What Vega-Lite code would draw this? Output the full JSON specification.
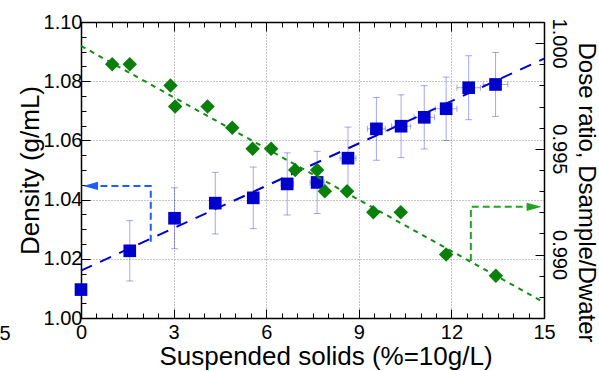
{
  "$schema": "https://vega.github.io/schema/vega-lite/v6.json",
  "width": 463,
  "height": 296,
  "autosize": {"type": "none"},
  "padding": {"left": 81, "top": 22, "right": 55, "bottom": 53},
  "background": "white",
  "config": {
    "view": {"stroke": null},
    "font": "Liberation Sans",
    "axis": {
      "labelFont": "Liberation Sans",
      "labelFontSize": 20,
      "labelColor": "black",
      "titleFont": "Liberation Sans",
      "titleFontSize": 26,
      "titleFontWeight": "normal",
      "titleColor": "black",
      "domainColor": "black",
      "domainWidth": 1.5,
      "tickColor": "black",
      "tickWidth": 1,
      "labelFlush": false,
      "labelOverlap": false,
      "labelBound": false
    }
  },
  "datasets": {
    "blue": [
      {"x": 0, "y": 1.0096},
      {"x": 1.58, "y": 1.0227, "ylo": 1.0125, "yhi": 1.0329, "xlo": 1.53, "xhi": 1.63},
      {"x": 3.03, "y": 1.0337, "ylo": 1.0234, "yhi": 1.044, "xlo": 2.94, "xhi": 3.12},
      {"x": 4.35, "y": 1.0388, "ylo": 1.0284, "yhi": 1.0492, "xlo": 4.22, "xhi": 4.48},
      {"x": 5.58, "y": 1.0406, "ylo": 1.0302, "yhi": 1.051, "xlo": 5.41, "xhi": 5.75},
      {"x": 6.68, "y": 1.0453, "ylo": 1.0348, "yhi": 1.0558, "xlo": 6.48, "xhi": 6.88},
      {"x": 7.65, "y": 1.0458, "ylo": 1.0353, "yhi": 1.0563, "xlo": 7.42, "xhi": 7.88},
      {"x": 8.65, "y": 1.054, "ylo": 1.0435, "yhi": 1.0645, "xlo": 8.39, "xhi": 8.91},
      {"x": 9.57, "y": 1.0639, "ylo": 1.0533, "yhi": 1.0745, "xlo": 9.28, "xhi": 9.86},
      {"x": 10.37, "y": 1.0648, "ylo": 1.0542, "yhi": 1.0754, "xlo": 10.06, "xhi": 10.68},
      {"x": 11.12, "y": 1.0678, "ylo": 1.0571, "yhi": 1.0785, "xlo": 10.79, "xhi": 11.45},
      {"x": 11.83, "y": 1.0707, "ylo": 1.06, "yhi": 1.0814, "xlo": 11.48, "xhi": 12.18},
      {"x": 12.56, "y": 1.0778, "ylo": 1.067, "yhi": 1.0886, "xlo": 12.18, "xhi": 12.94},
      {"x": 13.43, "y": 1.0789, "ylo": 1.0681, "yhi": 1.0897, "xlo": 13.03, "xhi": 13.83}
    ],
    "bfit": [{"x": 0, "y": 1.016}, {"x": 15, "y": 1.0876}],
    "barrow": [
      {"o": 1, "x": 2.26, "y": 1.0258},
      {"o": 2, "x": 2.26, "y": 1.0446},
      {"o": 3, "x": 0.31, "y": 1.0446}
    ],
    "bhead": [{"x": 0.31, "y": 1.0446}],
    "stray": [{"x": -2.46, "y": 0.9947, "t": "5"}],
    "green": [
      {"x": 1.01, "y": 0.999},
      {"x": 1.58, "y": 0.999},
      {"x": 2.9, "y": 0.998},
      {"x": 3.05, "y": 0.997},
      {"x": 4.1, "y": 0.997},
      {"x": 4.9, "y": 0.996},
      {"x": 5.56, "y": 0.995},
      {"x": 6.16, "y": 0.995},
      {"x": 6.94, "y": 0.994},
      {"x": 7.65, "y": 0.994},
      {"x": 7.9, "y": 0.993},
      {"x": 8.62, "y": 0.993},
      {"x": 9.47, "y": 0.992},
      {"x": 10.36, "y": 0.992},
      {"x": 11.83, "y": 0.99},
      {"x": 13.44, "y": 0.989}
    ],
    "gfit": [{"x": 0, "y": 0.99987}, {"x": 15, "y": 0.98774}],
    "garrow": [
      {"o": 1, "x": 12.63, "y": 0.9897},
      {"o": 2, "x": 12.63, "y": 0.99226},
      {"o": 3, "x": 14.68, "y": 0.99226}
    ],
    "ghead": [{"x": 14.68, "y": 0.99226}]
  },
  "layer": [
    {
      "data": {"name": "blue"},
      "mark": {"type": "rule", "color": "#0000cc", "opacity": 0.35, "strokeWidth": 1},
      "encoding": {
        "x": {
          "field": "x", "type": "quantitative",
          "scale": {"domain": [0, 15], "nice": false, "zero": false},
          "axis": {
            "orient": "bottom",
            "title": "Suspended solids (%=10g/L)",
            "values": [0, 0.5, 1, 1.5, 2, 2.5, 3, 3.5, 4, 4.5, 5, 5.5, 6, 6.5, 7, 7.5, 8, 8.5, 9, 9.5, 10, 10.5, 11, 11.5, 12, 12.5, 13, 13.5, 14, 14.5, 15],
            "labelExpr": "datum.value % 3 == 0 ? format(datum.value, 'd') : ''",
            "tickSize": -5,
            "labelPadding": 9,
            "grid": true,
            "gridColor": "#8a8a8a",
            "gridDash": [1, 2],
            "gridWidth": 1,
            "gridOpacity": {"condition": {"test": "datum.value % 3 == 0 && datum.value > 0.1 && datum.value < 14.9", "value": 1}, "value": 0},
            "titlePadding": 1,
            "titleX": 244.5
          }
        },
        "y": {
          "field": "ylo", "type": "quantitative",
          "scale": {"domain": [1.0, 1.1], "nice": false, "zero": false},
          "axis": {
            "orient": "left",
            "title": "Density (g/mL)",
            "values": [1, 1.005, 1.01, 1.015, 1.02, 1.025, 1.03, 1.035, 1.04, 1.045, 1.05, 1.055, 1.06, 1.065, 1.07, 1.075, 1.08, 1.085, 1.09, 1.095, 1.1],
            "labelExpr": "round(datum.value * 1000) % 20 == 0 ? format(datum.value, '.2f') : ''",
            "tickSize": -5,
            "labelPadding": 4,
            "grid": true,
            "gridColor": "#8a8a8a",
            "gridDash": [1, 2],
            "gridWidth": 1,
            "gridOpacity": {"condition": {"test": "round(datum.value * 1000) % 20 == 0 && datum.value > 1.001 && datum.value < 1.099", "value": 1}, "value": 0},
            "titlePadding": 0
          }
        },
        "y2": {"field": "yhi"}
      }
    },
    {
      "data": {"name": "blue"},
      "mark": {"type": "tick", "orient": "horizontal", "color": "#0000cc", "opacity": 0.35, "size": 7, "thickness": 1},
      "encoding": {
        "x": {
          "field": "x", "type": "quantitative", "scale": {"domain": [0, 15], "nice": false, "zero": false},
          "axis": {"orient": "bottom", "title": null, "labels": false, "domain": false, "grid": false, "values": [0, 3, 6, 9, 12, 15], "tickSize": -9}
        },
        "y": {
          "field": "ylo", "type": "quantitative", "scale": {"domain": [1.0, 1.1], "nice": false, "zero": false},
          "axis": {"orient": "left", "title": null, "labels": false, "domain": false, "grid": false, "values": [1, 1.02, 1.04, 1.06, 1.08, 1.1], "tickSize": -9}
        }
      }
    },
    {
      "data": {"name": "blue"},
      "mark": {"type": "tick", "orient": "horizontal", "color": "#0000cc", "opacity": 0.35, "size": 7, "thickness": 1},
      "encoding": {
        "x": {"field": "x", "type": "quantitative", "scale": {"domain": [0, 15], "nice": false, "zero": false}, "axis": null},
        "y": {"field": "yhi", "type": "quantitative", "scale": {"domain": [1.0, 1.1], "nice": false, "zero": false}, "axis": null}
      }
    },
    {
      "data": {"name": "blue"},
      "mark": {"type": "rule", "color": "#0000cc", "opacity": 0.35, "strokeWidth": 1},
      "encoding": {
        "x": {"field": "xlo", "type": "quantitative", "scale": {"domain": [0, 15], "nice": false, "zero": false}, "axis": null},
        "x2": {"field": "xhi"},
        "y": {"field": "y", "type": "quantitative", "scale": {"domain": [1.0, 1.1], "nice": false, "zero": false}, "axis": null}
      }
    },
    {
      "data": {"name": "blue"},
      "mark": {"type": "tick", "orient": "vertical", "color": "#0000cc", "opacity": 0.35, "size": 6, "thickness": 1},
      "encoding": {
        "x": {"field": "xlo", "type": "quantitative", "scale": {"domain": [0, 15], "nice": false, "zero": false}, "axis": null},
        "y": {"field": "y", "type": "quantitative", "scale": {"domain": [1.0, 1.1], "nice": false, "zero": false}, "axis": null}
      }
    },
    {
      "data": {"name": "blue"},
      "mark": {"type": "tick", "orient": "vertical", "color": "#0000cc", "opacity": 0.35, "size": 6, "thickness": 1},
      "encoding": {
        "x": {"field": "xhi", "type": "quantitative", "scale": {"domain": [0, 15], "nice": false, "zero": false}, "axis": null},
        "y": {"field": "y", "type": "quantitative", "scale": {"domain": [1.0, 1.1], "nice": false, "zero": false}, "axis": null}
      }
    },
    {
      "data": {"name": "bfit"},
      "mark": {"type": "line", "color": "#0000cc", "strokeWidth": 2, "strokeDash": [12, 9]},
      "encoding": {
        "x": {"field": "x", "type": "quantitative", "scale": {"domain": [0, 15], "nice": false, "zero": false}, "axis": null},
        "y": {"field": "y", "type": "quantitative", "scale": {"domain": [1.0, 1.1], "nice": false, "zero": false}, "axis": null}
      }
    },
    {
      "data": {"name": "blue"},
      "mark": {"type": "point", "shape": "square", "filled": true, "color": "#0000cc", "opacity": 1, "size": 160},
      "encoding": {
        "x": {"field": "x", "type": "quantitative", "scale": {"domain": [0, 15], "nice": false, "zero": false}, "axis": null},
        "y": {"field": "y", "type": "quantitative", "scale": {"domain": [1.0, 1.1], "nice": false, "zero": false}, "axis": null}
      }
    },
    {
      "data": {"name": "barrow"},
      "mark": {"type": "line", "color": "#1f5cff", "strokeWidth": 2, "strokeDash": [7, 4]},
      "encoding": {
        "x": {"field": "x", "type": "quantitative", "scale": {"domain": [0, 15], "nice": false, "zero": false}, "axis": null},
        "y": {"field": "y", "type": "quantitative", "scale": {"domain": [1.0, 1.1], "nice": false, "zero": false}, "axis": null},
        "order": {"field": "o", "type": "quantitative"}
      }
    },
    {
      "data": {"name": "bhead"},
      "mark": {"type": "point", "shape": "M1,-0.55L-1,0L1,0.55Z", "filled": true, "color": "#1f5cff", "opacity": 1, "size": 225},
      "encoding": {
        "x": {"field": "x", "type": "quantitative", "scale": {"domain": [0, 15], "nice": false, "zero": false}, "axis": null},
        "y": {"field": "y", "type": "quantitative", "scale": {"domain": [1.0, 1.1], "nice": false, "zero": false}, "axis": null}
      }
    },
    {
      "data": {"name": "stray"},
      "mark": {"type": "text", "font": "Liberation Sans", "fontSize": 20, "color": "black", "align": "center", "baseline": "middle"},
      "encoding": {
        "x": {"field": "x", "type": "quantitative", "scale": {"domain": [0, 15], "nice": false, "zero": false}, "axis": null},
        "y": {"field": "y", "type": "quantitative", "scale": {"domain": [1.0, 1.1], "nice": false, "zero": false}, "axis": null},
        "text": {"field": "t"}
      }
    },
    {
      "data": {"name": "gfit"},
      "mark": {"type": "line", "color": "#138c13", "strokeWidth": 2, "strokeDash": [5, 5]},
      "encoding": {
        "x": {
          "field": "x", "type": "quantitative",
          "scale": {"domain": [0, 15], "nice": false, "zero": false},
          "axis": {
            "orient": "top",
            "title": null,
            "labels": false,
            "grid": false,
            "values": [0, 0.5, 1, 1.5, 2, 2.5, 3, 3.5, 4, 4.5, 5, 5.5, 6, 6.5, 7, 7.5, 8, 8.5, 9, 9.5, 10, 10.5, 11, 11.5, 12, 12.5, 13, 13.5, 14, 14.5, 15],
            "tickSize": -5
          }
        },
        "y": {
          "field": "y", "type": "quantitative",
          "scale": {"domain": [0.987, 1.001], "nice": false, "zero": false},
          "axis": {
            "orient": "right",
            "title": "Dose ratio, Dsample/Dwater",
            "titleFontSize": 24,
            "titleY": 170,
            "grid": false,
            "values": [0.987, 0.988, 0.989, 0.99, 0.991, 0.992, 0.993, 0.994, 0.995, 0.996, 0.997, 0.998, 0.999, 1.0, 1.001],
            "labelExpr": "round(datum.value * 1000) % 5 == 0 ? format(datum.value, '.3f') : ''",
            "tickSize": -5,
            "labelAngle": 90,
            "labelAlign": "center",
            "labelBaseline": "bottom",
            "labelPadding": 9,
            "titlePadding": 5
          }
        }
      }
    },
    {
      "data": {"name": "green"},
      "mark": {"type": "point", "shape": "diamond", "filled": true, "color": "#0b7f0b", "opacity": 1, "size": 210},
      "encoding": {
        "x": {
          "field": "x", "type": "quantitative", "scale": {"domain": [0, 15], "nice": false, "zero": false},
          "axis": {"orient": "top", "title": null, "labels": false, "domain": false, "grid": false, "values": [0, 3, 6, 9, 12, 15], "tickSize": -9}
        },
        "y": {
          "field": "y", "type": "quantitative", "scale": {"domain": [0.987, 1.001], "nice": false, "zero": false},
          "axis": {"orient": "right", "title": null, "labels": false, "domain": false, "grid": false, "values": [0.99, 0.995, 1.0], "tickSize": -9}
        }
      }
    },
    {
      "data": {"name": "garrow"},
      "mark": {"type": "line", "color": "#22a322", "strokeWidth": 2, "strokeDash": [7, 4]},
      "encoding": {
        "x": {"field": "x", "type": "quantitative", "scale": {"domain": [0, 15], "nice": false, "zero": false}, "axis": null},
        "y": {"field": "y", "type": "quantitative", "scale": {"domain": [0.987, 1.001], "nice": false, "zero": false}, "axis": null},
        "order": {"field": "o", "type": "quantitative"}
      }
    },
    {
      "data": {"name": "ghead"},
      "mark": {"type": "point", "shape": "M-1,-0.55L1,0L-1,0.55Z", "filled": true, "color": "#22a322", "opacity": 1, "size": 225},
      "encoding": {
        "x": {"field": "x", "type": "quantitative", "scale": {"domain": [0, 15], "nice": false, "zero": false}, "axis": null},
        "y": {"field": "y", "type": "quantitative", "scale": {"domain": [0.987, 1.001], "nice": false, "zero": false}, "axis": null}
      }
    }
  ],
  "resolve": {"scale": {"y": "independent"}, "axis": {"x": "independent", "y": "independent"}}
}
